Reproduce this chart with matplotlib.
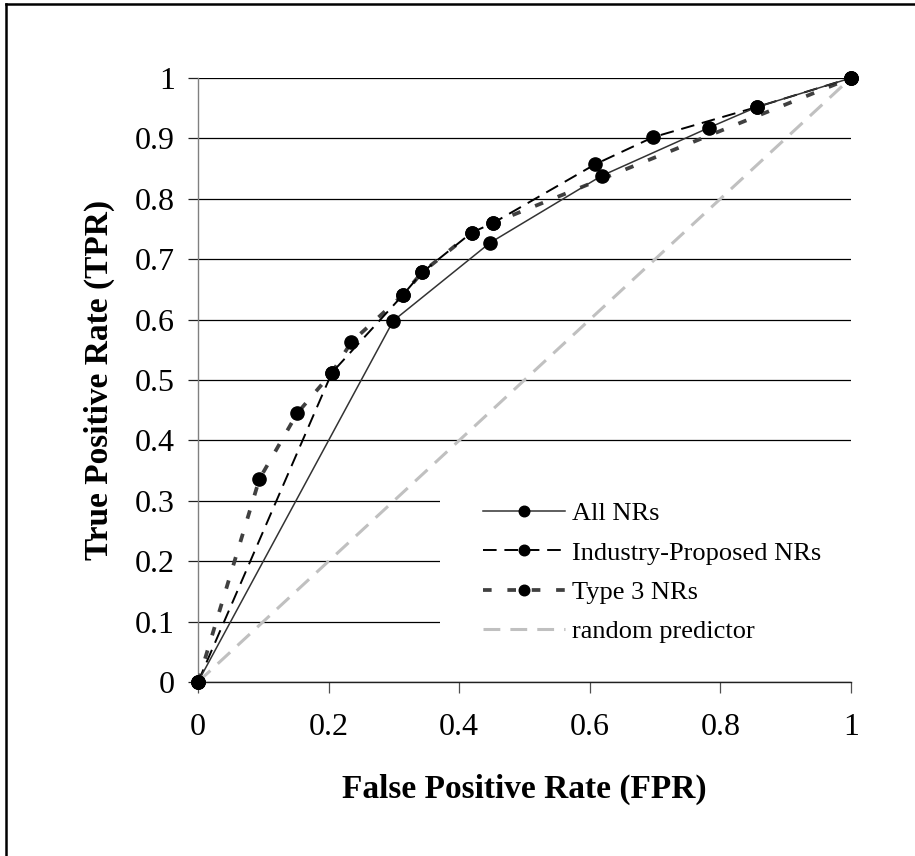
import matplotlib
matplotlib.use("Agg")
import matplotlib.pyplot as plt
from matplotlib.patches import Rectangle
from matplotlib.lines import Line2D

plt.rcParams['font.family'] = ['Liberation Serif', 'DejaVu Serif']

# ---- data ----
all_fpr = [0.0, 0.299, 0.447, 0.618, 0.783, 0.856, 1.0]
all_tpr = [0.0, 0.598, 0.727, 0.838, 0.918, 0.952, 1.0]

ind_fpr = [0.0, 0.205, 0.314, 0.343, 0.419, 0.452, 0.608, 0.697, 0.856, 1.0]
ind_tpr = [0.0, 0.512, 0.641, 0.678, 0.744, 0.760, 0.857, 0.902, 0.952, 1.0]

t3_fpr = [0.0, 0.094, 0.152, 0.205, 0.235, 0.314, 0.343, 0.419, 0.452, 1.0]
t3_tpr = [0.0, 0.336, 0.445, 0.512, 0.563, 0.641, 0.678, 0.744, 0.760, 1.0]

rand_fpr = [0.0, 1.0]
rand_tpr = [0.0, 1.0]

labels = ["All NRs", "Industry-Proposed NRs", "Type 3 NRs", "random predictor"]
xticks = [0, 0.2, 0.4, 0.6, 0.8, 1]
xticklabels = ["0", "0.2", "0.4", "0.6", "0.8", "1"]
yticks = [0, 0.1, 0.2, 0.3, 0.4, 0.5, 0.6, 0.7, 0.8, 0.9, 1]
yticklabels = ["0", "0.1", "0.2", "0.3", "0.4", "0.5", "0.6", "0.7", "0.8", "0.9", "1"]

W, H = 915, 856
fig = plt.figure(figsize=(W / 100, H / 100), dpi=100)
ax = fig.add_axes([198 / W, 1 - 682 / H, (851 - 198) / W, (682 - 78) / H])
ax.set_xlim(0, 1)
ax.set_ylim(0, 1)

# grid
ax.set_axisbelow(True)
ax.yaxis.grid(True, color='black', lw=0.9)
ax.xaxis.grid(False)

# white area behind legend (hides grid lines)
ax.add_patch(Rectangle(((440 - 198) / 653, 0.004), 1.0 - (440 - 198) / 653, 0.356,
                       transform=ax.transAxes, facecolor='white', edgecolor='none', zorder=1.5))

ms = 9.5
l_rand, = ax.plot(rand_fpr, rand_tpr, color='#c0c0c0', lw=2.2, zorder=2, clip_on=False)
l_rand.set_dashes([5.5, 3.3])
l_t3, = ax.plot(t3_fpr, t3_tpr, color='#404040', lw=2.7, marker='o', ms=ms,
                mfc='black', mec='black', zorder=3, clip_on=False)
l_t3.set_dashes([2.3, 4.2])
l_ind, = ax.plot(ind_fpr, ind_tpr, color='black', lw=1.4, marker='o', ms=ms,
                 mfc='black', mec='black', zorder=4, clip_on=False)
l_ind.set_dashes([7.0, 4.0])
l_all, = ax.plot(all_fpr, all_tpr, color='#333333', lw=1.1, marker='o', ms=ms,
                 mfc='black', mec='black', zorder=5, clip_on=False)

# spines
for s in ['top', 'right']:
    ax.spines[s].set_visible(False)
ax.spines['left'].set_color('#808080')
ax.spines['left'].set_linewidth(1.0)
ax.spines['bottom'].set_color('#202020')
ax.spines['bottom'].set_linewidth(1.0)

ax.set_xticks(xticks)
ax.set_xticklabels(xticklabels)
ax.set_yticks(yticks)
ax.set_yticklabels(yticklabels)
ax.tick_params(axis='y', direction='out', length=7.5, width=0.9, color='#202020',
               pad=9, labelsize=23)
ax.tick_params(axis='x', direction='out', length=8, width=0.9, color='#505050',
               pad=14, labelsize=23)

ax.set_xlabel("False Positive Rate (FPR)", fontsize=24, fontweight='bold')
ax.set_ylabel("True Positive Rate (TPR)", fontsize=24, fontweight='bold')
ax.xaxis.set_label_coords(0.5, -0.152)
ax.yaxis.set_label_coords(-0.127, 0.5)

leg = ax.legend([l_all, l_ind, l_t3, l_rand], labels, loc='center left',
                bbox_to_anchor=((483 - 198) / 653, (682 - 572.5) / 604),
                frameon=False, fontsize=19, handlelength=3.1, handletextpad=0.27,
                labelspacing=0.6, borderpad=0, borderaxespad=0, markerscale=0.8)

# figure frame (top & left visible)
fig.add_artist(Line2D([5.5 / W, 1.0], [1 - 3.5 / H, 1 - 3.5 / H], transform=fig.transFigure,
                      color='black', lw=1.8))
fig.add_artist(Line2D([5.5 / W, 5.5 / W], [0.0, 1 - 3.5 / H], transform=fig.transFigure,
                      color='black', lw=1.8))

fig.savefig("out.png", dpi=100, facecolor='white')
